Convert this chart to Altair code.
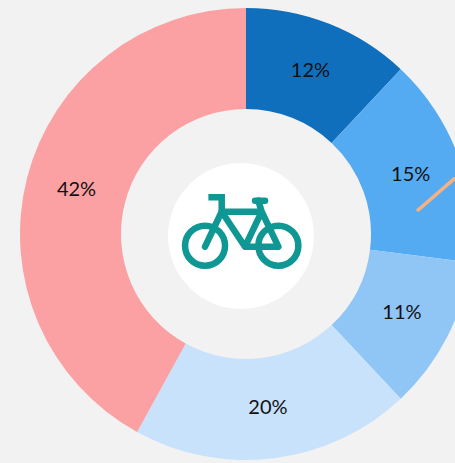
import altair as alt
import pandas as pd

segments = ["Segment 1", "Segment 2", "Segment 3", "Segment 4", "Segment 5"]
shares = [12, 15, 11, 20, 42]
labels = ["12%", "15%", "11%", "20%", "42%"]
colours = ["#0F6FBC", "#55ABF2", "#90C6F6", "#C7E2FA", "#FBA1A3"]
order = [0, 1, 2, 3, 4]

df = pd.DataFrame({"segment": segments, "share": shares, "label": labels, "order": order})
one = pd.DataFrame({"k": [0]})

CX, CY = 246, 234
TEAL = "#0F9794"
BX, BY = 241.7, 231.7

theta = alt.Theta("share:Q", stack=True, scale=alt.Scale(domain=[0, 100], range=[0, 6.283185307]))
ord_ = alt.Order("order:Q")

arcs = alt.Chart(df).mark_arc(outerRadius=226, innerRadius=125).encode(
    theta=theta,
    order=ord_,
    color=alt.Color("segment:N", scale=alt.Scale(domain=segments, range=colours), legend=None),
    x=alt.value(CX), y=alt.value(CY),
)

text = alt.Chart(df).mark_text(radius=175, font="Lato", fontSize=20, color="#111111").encode(
    theta=theta,
    order=ord_,
    detail="segment:N",
    text="label:N",
    x=alt.value(CX), y=alt.value(CY),
)

leader = alt.Chart(one).mark_rule(color="#F4B183", strokeWidth=3.6).encode(
    x=alt.value(417), y=alt.value(211), x2=alt.value(455), y2=alt.value(178),
)

disc = alt.Chart(one).mark_point(filled=True, shape="circle", size=21316, color="white", opacity=1).encode(
    x=alt.value(241), y=alt.value(236),
)

BIKE_BODY = (
    "M -1.7 0.42 A 0.6 0.6 0 1 0 -0.5 0.42 A 0.6 0.6 0 1 0 -1.7 0.42 Z "
    "M 0.5 0.42 A 0.6 0.6 0 1 0 1.7 0.42 A 0.6 0.6 0 1 0 0.5 0.42 Z "
    "M -1.1 0.45 L -0.6 -0.6 L 0.6 -0.6 L 1.1 0.45 L 0.1 0.45 L -0.6 -0.6 "
    "M 0.1 0.45 L 0.6 -0.6 L 0.5 -0.93"
)
BIKE_POST = "M -1.0 -1.03 L -0.6 -1.03 L -0.6 -0.6"
BIKE_BAR = "M 0.4 -0.93 L 0.7 -0.93"
BIKE_SIZE = 4444

bike = alt.Chart(one).mark_point(
    shape=BIKE_BODY, filled=False, size=BIKE_SIZE, stroke=TEAL, strokeWidth=6.5,
    strokeCap="round", strokeJoin="round", opacity=1,
).encode(x=alt.value(BX), y=alt.value(BY))

post = alt.Chart(one).mark_point(
    shape=BIKE_POST, filled=False, size=BIKE_SIZE, stroke=TEAL, strokeWidth=6.5,
    strokeCap="butt", strokeJoin="miter", opacity=1,
).encode(x=alt.value(BX), y=alt.value(BY))

bar = alt.Chart(one).mark_point(
    shape=BIKE_BAR, filled=False, size=BIKE_SIZE, stroke=TEAL, strokeWidth=6.5,
    strokeCap="round", opacity=1,
).encode(x=alt.value(BX), y=alt.value(BY))

chart = alt.layer(arcs, text, leader, disc, bike, post, bar).properties(
    width=455, height=463, background="#F2F2F2", padding=0,
    autosize=alt.AutoSizeParams(type="none"),
).configure_view(stroke=None)

chart.save("out.html", embed_options={
    "renderer": "svg", "actions": False,
    "defaultStyle": "html,body{background:#F2F2F2 !important;margin:0 !important;padding:0;overflow:hidden}",
})
